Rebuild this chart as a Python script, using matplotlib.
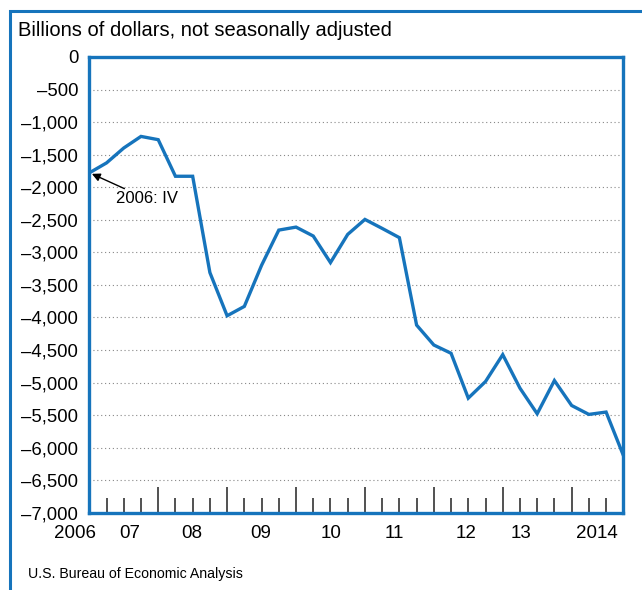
"""U.S. net international investment position, quarterly, 2006:IV-2014:III."""

import matplotlib

matplotlib.use("Agg")
import matplotlib.pyplot as plt
from matplotlib.patches import Rectangle
import numpy as np

plt.rcParams["font.family"] = ["Liberation Sans", "DejaVu Sans"]

quarters = (
    ["2006Q4"]
    + [f"{y}Q{q}" for y in range(2007, 2014) for q in (1, 2, 3, 4)]
    + ["2014Q1", "2014Q2", "2014Q3"]
)
niip = [
    -1780, -1627, -1398, -1220, -1270, -1832, -1832, -3311,
    -3975, -3831, -3200, -2659, -2613, -2750, -3158, -2725,
    -2495, -2633, -2775, -4118, -4424, -4551, -5240, -4985,
    -4572, -5087, -5480, -4970, -5353, -5490, -5454, -6118,
]
y_ticks = list(range(0, -7001, -500))
year_labels = ["2006", "07", "08", "09", "10", "11", "12", "13", "2014"]
year_label_x = [-0.83, 2.36, 5.95, 9.97, 14.03, 17.68, 21.86, 25.04, 29.44]

BLUE = "#1674bc"

x = np.arange(len(quarters))

fig = plt.figure(figsize=(6.42, 5.90), dpi=100)
ax = fig.add_axes([0.1391, 0.1310, 0.8318, 0.7724])

# outer frame of the panel (open to the right and bottom, as cropped)
fig.patches.append(
    Rectangle((10 / 642, -0.2), 2.0, 0.9814 + 0.2, transform=fig.transFigure,
              fill=False, edgecolor=BLUE, linewidth=2.2)
)

ax.plot(x, niip, color=BLUE, linewidth=2.4, solid_joinstyle="miter", zorder=3)

for v in y_ticks[1:-1]:
    ax.axhline(v, color="#888888", linewidth=0.8, linestyle=(0, (1, 2.5)), zorder=1)

ax.set_xlim(0, len(quarters) - 1)
ax.set_ylim(-7000, 0)
ax.set_yticks(y_ticks)
ax.set_yticklabels([f"{v:,}".replace("-", "\u2013") for v in y_ticks], fontsize=13.3)
ax.tick_params(axis="y", length=0, pad=8)

# quarterly ticks inside the frame, tall ones at each fourth quarter
tall = [i for i in x[1:-1] if quarters[i].endswith("Q4")]
short = [i for i in x[1:-1] if not quarters[i].endswith("Q4")]
ax.set_xticks(tall)
ax.set_xticks(short, minor=True)
ax.set_xticklabels([])
ax.tick_params(axis="x", which="major", direction="in", length=19, width=1.1, color="#222222")
ax.tick_params(axis="x", which="minor", direction="in", length=11, width=1.1, color="#222222")

for lab, pos in zip(year_labels, year_label_x):
    ax.text(pos, -0.045, lab, transform=ax.get_xaxis_transform(), ha="center",
            va="center", fontsize=13.5)

for sp in ax.spines.values():
    sp.set_color(BLUE)
    sp.set_linewidth(2.4)

ax.annotate("2006: IV", xy=(0.15, -1795), xytext=(1.55, -2180), fontsize=12,
            ha="left", va="center",
            arrowprops=dict(arrowstyle="-|>", color="black", lw=1.0,
                            shrinkA=0, shrinkB=0, mutation_scale=12))

fig.text(18 / 642, 1 - 30 / 590, "Billions of dollars, not seasonally adjusted",
         fontsize=14.5, ha="left", va="center")
fig.text(28 / 642, 1 - 574 / 590, "U.S. Bureau of Economic Analysis",
         fontsize=10.2, ha="left", va="center")

fig.savefig("out.png", dpi=100)
